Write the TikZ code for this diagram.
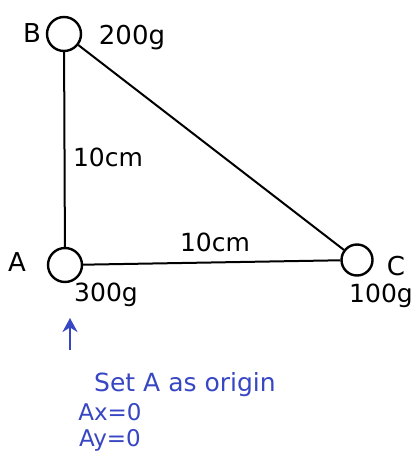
\documentclass[tikz,border=0pt]{standalone}
\usepackage{fontspec}
\setmainfont{DejaVu Sans}
\usetikzlibrary{arrows.meta}
\definecolor{inkblue}{RGB}{55,70,195}
\begin{document}
\begin{tikzpicture}[x=1pt,y=-1pt,
  mass/.style={draw,circle,line width=2.4pt,minimum size=34pt,inner sep=0pt},
  rod/.style={line width=2pt},
  lbl/.style={font=\fontsize{25}{27}\selectfont,inner sep=0pt},
  biglbl/.style={font=\fontsize{26}{28}\selectfont,inner sep=0pt},
  note/.style={font=\fontsize{25}{27}\selectfont,inner sep=0pt,text=inkblue},
  smallnote/.style={font=\fontsize{23}{25}\selectfont,inner sep=0pt,text=inkblue}]
\useasboundingbox (0,0) rectangle (416,457);
\node[mass] (B) at (64,34) {};
\node[mass] (A) at (65,265) {};
\node[mass,minimum size=31pt] (C) at (357,260) {};
\draw[rod] (B) -- (A);
\draw[rod] (A) -- (C);
\draw[rod] (B) -- (C);
\node[biglbl] (lB) at (32,33) {B};
\node[biglbl] (mB) at (132,38) {200g};
\node[lbl] (dAB) at (108,157) {10cm};
\node[lbl] (dAC) at (215,242) {10cm};
\node[biglbl] (lA) at (17,262) {A};
\node[lbl] (mA) at (106,295) {300g};
\node[biglbl] (lC) at (396,266) {C};
\node[lbl] (mC) at (381,296) {100g};
\coordinate (arrowtail) at (70,350);
\coordinate (arrowhead) at (70,318);
\draw[inkblue,line width=2.8pt,-{Stealth[length=14pt,width=15pt]}] (arrowtail) -- (arrowhead);
\node[note] (origin) at (185,385) {Set A as origin};
\node[smallnote] (ax) at (110,412) {Ax=0};
\node[smallnote] (ay) at (110,440) {Ay=0};
\end{tikzpicture}
\end{document}
